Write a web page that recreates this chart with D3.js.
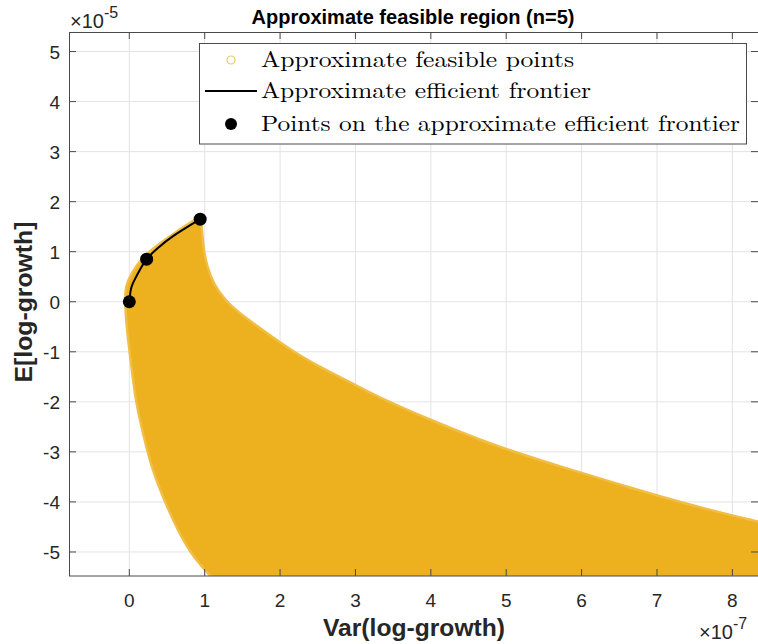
<!DOCTYPE html>
<html><head><meta charset="utf-8">
<script src="https://cdn.jsdelivr.net/npm/d3@7"></script>
<style>body{margin:0;background:#fff}svg{display:block}</style>
</head><body>
<script>
// ---- data ----
const xTicks = [0,1,2,3,4,5,6,7,8];
const yTicks = [-5,-4,-3,-2,-1,0,1,2,3,4,5];
const xDomain = [-0.8, 8.34];
const yDomain = [-5.48, 5.39];
// upper/right boundary of feasible cloud (x in 1e-7, y in 1e-5), from the frontier top downwards
const feasibleRight = [[0.94,1.70],[0.965,1.45],[0.98,1.1],[1.03,0.7],[1.12,0.35],[1.27,0.03],[1.45,-0.22],[1.69,-0.48],[2.13,-0.96],[2.57,-1.34],[3.01,-1.67],[3.32,-1.92],[3.99,-2.36],[4.65,-2.76],[5.09,-2.99],[5.71,-3.29],[6.37,-3.59],[7.04,-3.89],[7.70,-4.16],[8.33,-4.39],[8.6,-4.49]];
const feasibleBottom = [[8.6,-5.9],[1.26,-5.9]];
// left boundary, from bottom upwards
const feasibleLeft = [[1.26,-5.9],[1.18,-5.66],[1.08,-5.48],[0.95,-5.28],[0.79,-4.96],[0.66,-4.62],[0.46,-3.96],[0.29,-3.30],[0.18,-2.62],[0.08,-1.96],[0.03,-1.30],[-0.03,-0.62],[-0.06,0.04],[-0.05,0.30],[0.02,0.56],[0.18,0.90],[0.40,1.16],[0.62,1.40],[0.94,1.70]];
const frontierLine = [[0,0],[0.03,0.3],[0.095,0.51],[0.23,0.85],[0.4,1.1],[0.58,1.31],[0.94,1.65]];
const frontierPoints = [[0,0],[0.23,0.85],[0.94,1.65]];
const legendLabels = ["Approximate feasible points","Approximate efficient frontier","Points on the approximate efficient frontier"];
const titleText = "Approximate feasible region (n=5)";
const xLabel = "Var(log-growth)";
const yLabel = "E[log-growth]";

const W=758,H=644;
const m={l:69,t:32,r:0,b:68};
const pw=W-m.l-m.r, ph=H-m.t-m.b;
const yellow="#EDB120";
const svg=d3.select("body").append("svg").attr("width",W).attr("height",H);
const x=d3.scaleLinear().domain(xDomain).range([m.l,m.l+pw]);
const y=d3.scaleLinear().domain(yDomain).range([m.t+ph,m.t]);

svg.append("defs").append("clipPath").attr("id","clip").append("rect")
  .attr("x",m.l).attr("y",m.t).attr("width",pw).attr("height",ph);

// grid
const g=svg.append("g");
g.selectAll(".gx").data(xTicks).join("line").attr("x1",d=>x(d)).attr("x2",d=>x(d))
 .attr("y1",m.t).attr("y2",m.t+ph).attr("stroke","#e3e3e3").attr("stroke-width",1);
g.selectAll(".gy").data(yTicks).join("line").attr("y1",d=>y(d)).attr("y2",d=>y(d))
 .attr("x1",m.l).attr("x2",m.l+pw).attr("stroke","#e3e3e3").attr("stroke-width",1);

// feasible region
const smooth=d3.line().x(d=>x(d[0])).y(d=>y(d[1])).curve(d3.curveBasis);
const pR=smooth(feasibleRight);
const pB=feasibleBottom.map(d=>"L"+x(d[0])+","+y(d[1])).join("");
const pL=smooth(feasibleLeft).replace(/^M/,"L");
const plot=svg.append("g").attr("clip-path","url(#clip)");
plot.append("path").attr("d",pR+pB+pL+"Z")
  .attr("fill",yellow).attr("stroke","#F0BD45").attr("stroke-width",2.5).attr("stroke-linejoin","round");

// frontier
plot.append("path").attr("d",d3.line().x(d=>x(d[0])).y(d=>y(d[1])).curve(d3.curveCatmullRom)(frontierLine))
  .attr("fill","none").attr("stroke","#000").attr("stroke-width",2);
plot.selectAll(".fp").data(frontierPoints).join("circle").attr("cx",d=>x(d[0])).attr("cy",d=>y(d[1]))
  .attr("r",6.5).attr("fill","#000");

// axes box and ticks
const axc="#4a4a4a";
svg.append("rect").attr("x",m.l+0.5).attr("y",m.t+0.5).attr("width",pw).attr("height",ph-0.5)
  .attr("fill","none").attr("stroke",axc).attr("stroke-width",1);
const tl=7;
const ax=svg.append("g");
ax.selectAll(".tb").data(xTicks).join("line").attr("x1",d=>x(d)).attr("x2",d=>x(d)).attr("y1",m.t+ph).attr("y2",m.t+ph-tl).attr("stroke",axc);
ax.selectAll(".tt").data(xTicks).join("line").attr("x1",d=>x(d)).attr("x2",d=>x(d)).attr("y1",m.t).attr("y2",m.t+tl).attr("stroke",axc);
ax.selectAll(".tl").data(yTicks).join("line").attr("y1",d=>y(d)).attr("y2",d=>y(d)).attr("x1",m.l).attr("x2",m.l+tl).attr("stroke",axc);
ax.selectAll(".tr").data(yTicks).join("line").attr("y1",d=>y(d)).attr("y2",d=>y(d)).attr("x1",m.l+pw).attr("x2",m.l+pw-tl).attr("stroke",axc);

const sans="Helvetica, 'Liberation Sans', Arial, sans-serif";
const tc="#262626";
ax.selectAll(".xl").data(xTicks).join("text").attr("x",d=>x(d)).attr("y",607)
  .attr("text-anchor","middle").attr("font-family",sans).attr("font-size",19).attr("fill",tc).text(d=>d);
ax.selectAll(".yl").data(yTicks).join("text").attr("x",60).attr("y",d=>y(d)+7)
  .attr("text-anchor","end").attr("font-family",sans).attr("font-size",19).attr("fill",tc).text(d=>d);

// exponent labels
function expLabel(px,py,e){
  const t=svg.append("text").attr("x",px).attr("y",py).attr("font-family",sans).attr("font-size",20).attr("fill",tc);
  t.append("tspan").text("×10");
  t.append("tspan").attr("dy",-10).attr("font-size",16).text(e);
}
expLabel(70,28,"-5");
expLabel(699,639,"-7");

// title and axis labels
svg.append("text").attr("x",413).attr("y",24).attr("text-anchor","middle").attr("font-family",sans)
  .attr("font-weight","bold").attr("font-size",20).attr("fill","#000").text(titleText);
svg.append("text").attr("x",414).attr("y",636).attr("text-anchor","middle").attr("font-family",sans)
  .attr("font-weight","bold").attr("font-size",23).attr("fill",tc)
  .attr("textLength",182).attr("lengthAdjust","spacingAndGlyphs").text(xLabel);
svg.append("text").attr("transform","translate(32,302) rotate(-90)").attr("text-anchor","middle").attr("font-family",sans)
  .attr("font-weight","bold").attr("font-size",23).attr("fill",tc)
  .attr("textLength",161).attr("lengthAdjust","spacingAndGlyphs").text(yLabel);

// legend
const lg=svg.append("g");
lg.append("rect").attr("x",199.5).attr("y",43.5).attr("width",547).attr("height",100.5)
  .attr("fill","#fff").attr("stroke","#4a4a4a").attr("stroke-width",1);
const rowsY=[60,91,124];
const widths=[313,330,479];
lg.append("circle").attr("cx",231).attr("cy",rowsY[0]).attr("r",4).attr("fill","none").attr("stroke","#F2C45A").attr("stroke-width",1.2);
lg.append("line").attr("x1",205).attr("x2",257).attr("y1",rowsY[1]).attr("y2",rowsY[1]).attr("stroke","#000").attr("stroke-width",2);
lg.append("circle").attr("cx",231).attr("cy",rowsY[2]).attr("r",6).attr("fill","#000");
lg.selectAll(".lt").data(legendLabels).join("text").attr("x",261).attr("y",(d,i)=>rowsY[i]+7)
  .attr("font-family","'Latin Modern Roman','CMU Serif','Liberation Serif','DejaVu Serif',serif").attr("font-size",22).attr("fill","#000")
  .attr("textLength",(d,i)=>widths[i]).attr("lengthAdjust","spacingAndGlyphs").text(d=>d);
</script>
</body></html>
